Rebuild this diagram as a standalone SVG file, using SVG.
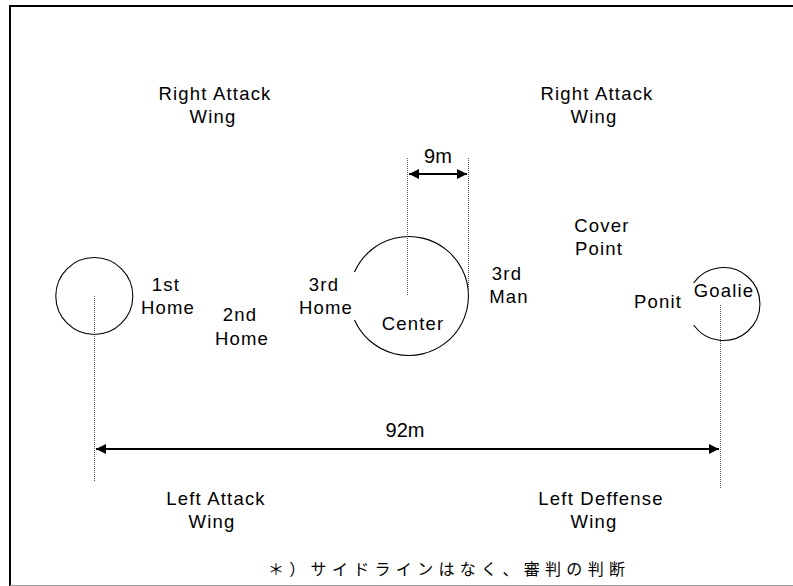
<svg xmlns="http://www.w3.org/2000/svg" width="793" height="586" viewBox="0 0 793 586">
<style>
  .lbl { font-family: "Liberation Sans", Arial, sans-serif; font-size: 18.5px; letter-spacing: 1.2px; fill: #000; text-anchor: middle; }
  .dim { font-family: "Liberation Sans", Arial, sans-serif; font-size: 20px; fill: #000; text-anchor: middle; }
  .note { font-family: "Liberation Sans", "Noto Sans CJK JP", sans-serif; font-size: 16px; fill: #000; }
  .ring { fill: none; stroke: #000; stroke-width: 1.1; }
  .guide { fill: none; stroke: #555; stroke-width: 1; stroke-dasharray: 1 1; }
  .arrow { fill: none; stroke: #000; stroke-width: 2; marker-start: url(#ahS); marker-end: url(#ahE); }
</style>
<defs>
  <marker id="ahE" viewBox="0 0 10 10" refX="10" refY="5" markerWidth="5" markerHeight="5" markerUnits="strokeWidth" orient="auto">
    <path d="M0,0 L10,5 L0,10 z" fill="#000"/>
  </marker>
  <marker id="ahS" viewBox="0 0 10 10" refX="0" refY="5" markerWidth="5" markerHeight="5" markerUnits="strokeWidth" orient="auto">
    <path d="M10,0 L0,5 L10,10 z" fill="#000"/>
  </marker>
</defs>
<rect x="0" y="0" width="793" height="586" fill="#fff"/>
<g id="border">
  <line x1="10" y1="6" x2="793" y2="6" stroke="#000" stroke-width="2"/>
  <line x1="10" y1="5" x2="10" y2="586" stroke="#000" stroke-width="2"/>
  <line x1="10" y1="585.5" x2="793" y2="585.5" stroke="#999" stroke-width="1"/>
</g>
<g id="left-circle"><circle class="ring" cx="94.3" cy="296" r="38.5"/></g>
<g id="center-circle"><path class="ring" d="M354.5,272 A59.5,59.5 0 1,1 354.5,320"/></g>
<g id="goalie-circle"><path class="ring" d="M693.6,283 A36.5,36.5 0 1,1 693.6,325"/></g>
<g id="connectors">
  <line class="guide" x1="94.5" y1="296" x2="94.5" y2="481"/>
  <line class="guide" x1="720.5" y1="305" x2="720.5" y2="488"/>
  <line class="guide" x1="407.5" y1="158" x2="407.5" y2="296"/>
  <line class="guide" x1="468.5" y1="158" x2="468.5" y2="293"/>
  <line class="arrow" x1="96" y1="449" x2="719" y2="449"/>
  <line class="arrow" x1="409" y1="174" x2="467" y2="174"/>
</g>
<g id="label-9m"><text class="dim" x="438" y="163">9m</text></g>
<g id="label-92m"><text class="dim" x="405" y="437">92m</text></g>
<g id="right-attack-wing-1"><text class="lbl" x="215" y="100">Right Attack</text><text class="lbl" x="213" y="123">Wing</text></g>
<g id="right-attack-wing-2"><text class="lbl" x="597" y="100">Right Attack</text><text class="lbl" x="594" y="123">Wing</text></g>
<g id="first-home"><text class="lbl" x="166" y="291">1st</text><text class="lbl" x="168" y="314">Home</text></g>
<g id="second-home"><text class="lbl" x="240" y="321">2nd</text><text class="lbl" x="242" y="345">Home</text></g>
<g id="third-home"><text class="lbl" x="324" y="291">3rd</text><text class="lbl" x="326" y="314">Home</text></g>
<g id="center"><text class="lbl" x="413" y="330">Center</text></g>
<g id="third-man"><text class="lbl" x="507" y="280">3rd</text><text class="lbl" x="509" y="303">Man</text></g>
<g id="cover-point"><text class="lbl" x="602" y="232">Cover</text><text class="lbl" x="599" y="255">Point</text></g>
<g id="ponit"><text class="lbl" x="658" y="308">Ponit</text></g>
<g id="goalie"><text class="lbl" x="724" y="297">Goalie</text></g>
<g id="left-attack-wing"><text class="lbl" x="216" y="505">Left Attack</text><text class="lbl" x="212" y="528">Wing</text></g>
<g id="left-defense-wing"><text class="lbl" x="601" y="505">Left Deffense</text><text class="lbl" x="594" y="528">Wing</text></g>
<g id="note"><text class="note" x="268" y="575" textLength="357" lengthAdjust="spacing">＊）サイドラインはなく、審判の判断</text></g>
</svg>
